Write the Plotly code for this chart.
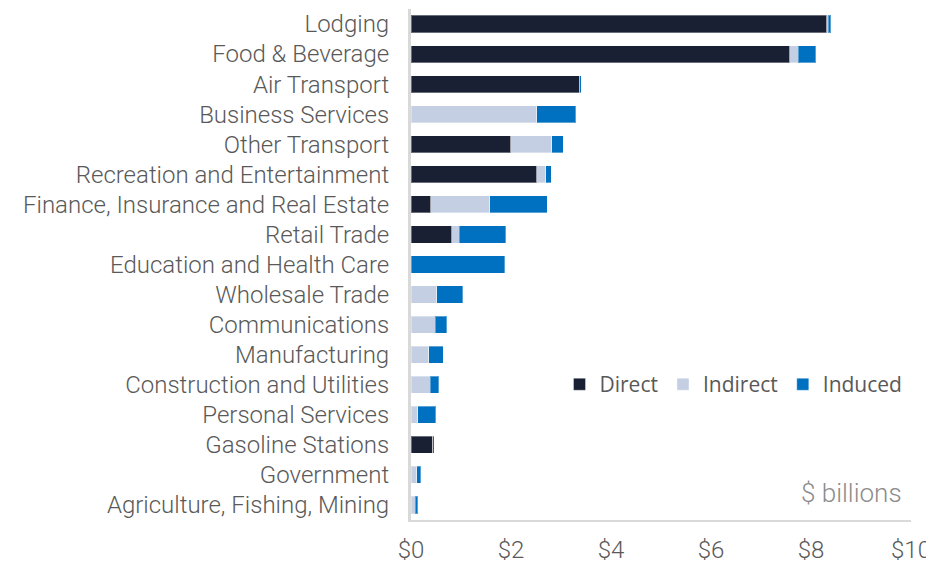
import plotly.graph_objects as go

categories = ["Lodging", "Food & Beverage", "Air Transport", "Business Services", "Other Transport",
              "Recreation and Entertainment", "Finance, Insurance and Real Estate", "Retail Trade",
              "Education and Health Care", "Wholesale Trade", "Communications", "Manufacturing",
              "Construction and Utilities", "Personal Services", "Gasoline Stations", "Government",
              "Agriculture, Fishing, Mining"]
direct = [8.31, 7.57, 3.37, 0.0, 1.99, 2.51, 0.39, 0.81, 0.0, 0.0, 0.0, 0.0, 0.0, 0.0, 0.43, 0.0, 0.0]
indirect = [0.03, 0.17, 0.0, 2.51, 0.82, 0.18, 1.18, 0.15, 0.0, 0.51, 0.48, 0.35, 0.38, 0.13, 0.0, 0.11, 0.08]
induced = [0.05, 0.35, 0.03, 0.78, 0.23, 0.11, 1.15, 0.93, 1.87, 0.52, 0.23, 0.29, 0.17, 0.36, 0.03, 0.08, 0.05]
x_ticks = [0, 2, 4, 6, 8, 10]
x_tick_labels = ["$0", "$2", "$4", "$6", "$8", "$10"]

series = [("Direct", direct, "#1a2033"), ("Indirect", indirect, "#c4cfe3"), ("Induced", induced, "#0070c0")]

fig = go.Figure()
for name, vals, color in series:
    fig.add_trace(go.Bar(
        y=categories, x=vals, name=name, orientation="h",
        marker=dict(color=color, line=dict(color="rgba(255,255,255,0.35)", width=1)),
    ))

label_font = dict(family="Roboto", size=24, color="#595959", weight=300)

fig.update_layout(
    barmode="stack",
    bargap=0.43,
    width=926, height=555,
    margin=dict(l=403, r=23, t=1, b=43, autoexpand=False),
    plot_bgcolor="white", paper_bgcolor="white",
    font=label_font,
    legend=dict(orientation="h", x=0.297, y=0.265, xanchor="left", yanchor="middle",
                font=dict(family="Open Sans", size=21, color="#595959", weight=400),
                traceorder="normal", itemwidth=30, bgcolor="rgba(0,0,0,0)"),
    xaxis=dict(range=[0, 10], tickvals=x_ticks, ticktext=x_tick_labels, showgrid=False,
               zeroline=False, showline=True, linecolor="#d9d9d9", linewidth=2,
               ticks="outside", ticklen=7, tickcolor="rgba(0,0,0,0)", automargin=False,
               tickfont=label_font),
    yaxis=dict(categoryorder="array", categoryarray=categories[::-1], showgrid=False,
               showline=True, linecolor="#d9d9d9", linewidth=3, automargin=False,
               ticks="outside", ticklen=14, tickcolor="rgba(0,0,0,0)",
               tickfont=label_font),
    annotations=[dict(text="$ billions", xref="paper", yref="paper", x=0.985, y=0.053,
                      xanchor="right", yanchor="middle", showarrow=False,
                      font=dict(family="Roboto", size=26, color="#8c8c8c", weight=300))],
)
fig.update_yaxes(range=[-0.5, len(categories) - 0.5])

fig.write_html("out.html")
